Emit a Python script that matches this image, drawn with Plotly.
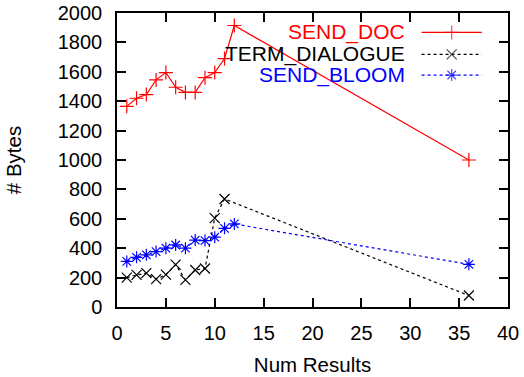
import plotly.graph_objects as go

# Message sizes per query result count
doc_results = [1, 2, 3, 4, 5, 6, 7, 8, 9, 10, 11, 12, 36]
send_doc = [1365, 1420, 1445, 1545, 1595, 1495, 1460, 1460, 1560, 1595, 1690, 1915, 1000]

term_results = [1, 2, 3, 4, 5, 6, 7, 8, 9, 10, 11, 36]
term_dialogue = [200, 218, 230, 190, 220, 288, 185, 252, 262, 605, 735, 78]

bloom_results = [1, 2, 3, 4, 5, 6, 7, 8, 9, 10, 11, 12, 36]
send_bloom = [310, 338, 355, 377, 400, 422, 400, 455, 452, 475, 535, 565, 290]

series = [
    ("SEND_DOC", doc_results, send_doc, "#ff0000", "solid", "cross-thin"),
    ("TERM_DIALOGUE", term_results, term_dialogue, "#000000", "3px,3px", "x-thin"),
    ("SEND_BLOOM", bloom_results, send_bloom, "#0000ff", "3px,3px", "asterisk"),
]

FONT = "Liberation Sans, Arial, sans-serif"
fig = go.Figure()

for name, xs, ys, color, dash, symbol in series:
    fig.add_trace(go.Scatter(
        x=xs, y=ys, mode="lines+markers", name=name, showlegend=False,
        line=dict(color=color, width=1.2, dash=dash),
        marker=dict(symbol=symbol, size=10, color=color,
                    line=dict(color=color, width=1.2)),
    ))

# gnuplot-style key: label on the left, line sample on the right
key_rows = [0.934, 0.859, 0.789]
for (name, xs, ys, color, dash, symbol), ky in zip(series, key_rows):
    fig.add_trace(go.Scatter(
        x=[0.779, 0.856, 0.933], y=[ky, ky, ky], xaxis="x2", yaxis="y2",
        mode="lines+markers", showlegend=False, hoverinfo="skip",
        line=dict(color=color, width=1.2, dash=dash),
        marker=dict(symbol=symbol, size=[0, 10, 0], color=color,
                    line=dict(color=color, width=1.2)),
    ))
    fig.add_annotation(
        x=0.742, y=ky, xref="paper", yref="paper", text=name,
        showarrow=False, xanchor="right", yanchor="middle",
        font=dict(family=FONT, size=21, color=color),
    )

axis_common = dict(
    showline=True, linecolor="black", linewidth=1.5, mirror="ticks",
    ticks="inside", ticklen=9, tickwidth=1.5, tickcolor="black",
    showgrid=False, zeroline=False, automargin=False,
    tickfont=dict(family=FONT, size=20, color="black"),
)

fig.update_layout(
    width=524, height=377,
    margin=dict(l=117, r=16, t=13, b=70),
    paper_bgcolor="white", plot_bgcolor="white",
    showlegend=False,
    xaxis=dict(range=[0, 40], dtick=5, ticklabelstandoff=7,
               title=dict(text="Num Results", standoff=15,
                          font=dict(family=FONT, size=20.5, color="black")),
               **axis_common),
    yaxis=dict(range=[0, 2000], dtick=200, ticklabelstandoff=9,
               title=dict(text="# Bytes", standoff=31,
                          font=dict(family=FONT, size=20.5, color="black")),
               **axis_common),
    xaxis2=dict(range=[0, 1], overlaying="x", visible=False),
    yaxis2=dict(range=[0, 1], overlaying="y", visible=False),
)

fig.write_html("out.html")
